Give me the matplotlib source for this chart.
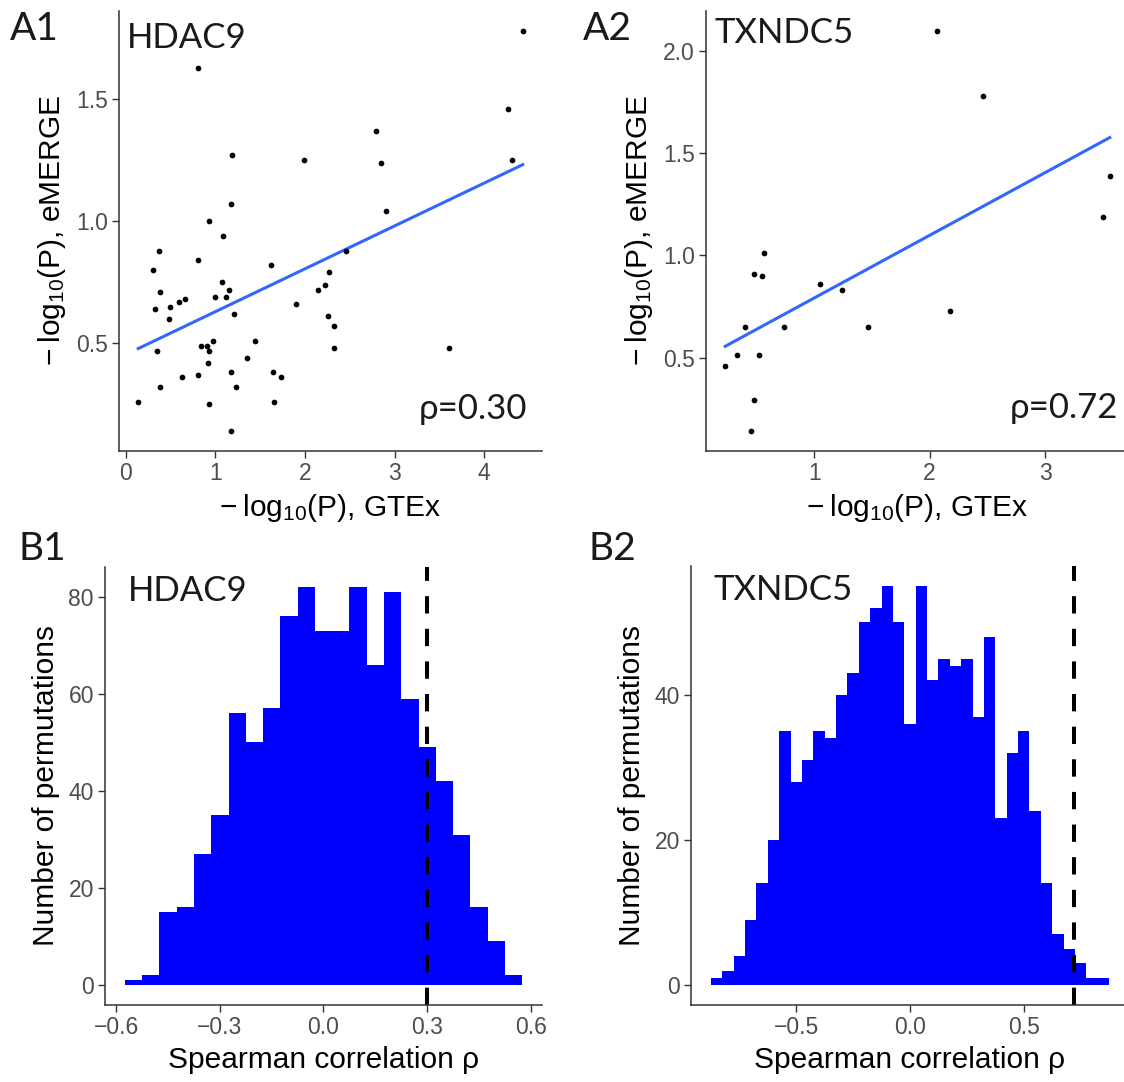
import numpy as np
import matplotlib
matplotlib.use("Agg")
import matplotlib.pyplot as plt

plt.rcParams['font.family'] = ['Liberation Sans', 'DejaVu Sans']
plt.rcParams['mathtext.default'] = 'regular'

# --- A1: HDAC9 scatter (GTEx vs eMERGE) ---
hdac9_gtex = [4.43, 0.81, 4.27, 2.79, 1.19, 1.99, 2.85, 4.31, 1.18, 2.90, 0.93,
              1.09, 0.37, 2.46, 0.31, 0.81, 1.62, 2.27, 1.08, 0.38, 1.15, 2.15,
              2.22, 0.33, 0.50, 0.60, 0.66, 1.00, 1.12, 0.48, 1.21, 1.90, 2.26,
              2.32, 2.32, 0.35, 0.84, 0.91, 0.93, 0.97, 1.44, 3.61, 0.92, 1.35,
              0.63, 0.81, 1.18, 1.64, 1.73, 0.38, 1.23, 0.14, 1.66, 0.93, 1.18]
hdac9_emerge = [1.78, 1.63, 1.46, 1.37, 1.27, 1.25, 1.24, 1.25, 1.07, 1.04, 1.00,
                0.94, 0.88, 0.88, 0.80, 0.84, 0.82, 0.79, 0.75, 0.71, 0.72, 0.72,
                0.74, 0.64, 0.65, 0.67, 0.68, 0.69, 0.69, 0.60, 0.62, 0.66, 0.61,
                0.57, 0.48, 0.47, 0.49, 0.49, 0.47, 0.51, 0.51, 0.48, 0.42, 0.44,
                0.36, 0.37, 0.38, 0.38, 0.36, 0.32, 0.32, 0.26, 0.26, 0.25, 0.14]
hdac9_rho = 0.30

# --- A2: TXNDC5 scatter ---
txndc5_gtex = [2.06, 2.46, 3.56, 3.50, 0.57, 0.48, 0.55, 1.05, 1.24, 2.18,
               0.40, 0.74, 1.47, 0.33, 0.52, 0.23, 0.48, 0.45]
txndc5_emerge = [2.10, 1.78, 1.39, 1.19, 1.01, 0.91, 0.90, 0.86, 0.83, 0.73,
                 0.65, 0.65, 0.65, 0.51, 0.51, 0.46, 0.29, 0.14]
txndc5_rho = 0.72

# --- B1 / B2: permutation histograms (bin width 0.05) ---
hdac9_bin_start = -0.575
hdac9_counts = [1, 2, 15, 16, 27, 35, 56, 50, 57, 76, 82, 73, 73, 82, 66, 81,
                59, 49, 42, 31, 16, 9, 2]
txndc5_bin_start = -0.875
txndc5_counts = [1, 2, 4, 9, 14, 20, 35, 28, 31, 35, 34, 40, 43, 50, 52, 55, 50,
                 36, 55, 42, 45, 44, 45, 37, 48, 23, 32, 35, 24, 14, 7, 5, 3, 1, 1]
bin_width = 0.05

W, H = 1124, 1082
fig = plt.figure(figsize=(W / 100, H / 100), dpi=100)


def add_ax(l, r, t, b):
    ax = fig.add_axes([l / W, 1 - b / H, (r - l) / W, (b - t) / H])
    for s in ['top', 'right']:
        ax.spines[s].set_visible(False)
    for s in ['left', 'bottom']:
        ax.spines[s].set_color('#333333')
        ax.spines[s].set_linewidth(1.1)
    ax.tick_params(length=5, width=1.0, color='#333333', labelcolor='#4D4D4D',
                   labelsize=16.5, pad=3)
    return ax


def fmt(ticks, nd):
    return [f'{t:.{nd}f}'.replace('-', '\u2212') for t in ticks]


def expand(lo, hi, f=0.05):
    d = (hi - lo) * f
    return lo - d, hi + d


label_font = ['Lato', 'Open Sans', 'DejaVu Sans']
xlab = '\u2212\u2009log$_{10}$(P), GTEx'
ylab = '\u2212\u2009log$_{10}$(P), eMERGE'
TITLE = 21.5


def scatter_panel(ax, x, y, gene, rho, xticks, yticks, gene_pos, rho_pos):
    x = np.array(x)
    y = np.array(y)
    ax.scatter(x, y, s=17, color='black', linewidths=0, zorder=3)
    k, c = np.polyfit(x, y, 1)
    xx = np.array([x.min(), x.max()])
    ax.plot(xx, k * xx + c, color='#3366FF', lw=2.2, zorder=2)
    ax.set_xlim(*expand(x.min(), x.max()))
    ax.set_ylim(*expand(y.min(), y.max()))
    ax.set_xticks(xticks)
    ax.set_xticklabels(fmt(xticks, 0))
    ax.set_yticks(yticks)
    ax.set_yticklabels(fmt(yticks, 1))
    ax.set_xlabel(xlab, fontsize=TITLE, labelpad=5)
    ax.set_ylabel(ylab, fontsize=TITLE, labelpad=6)
    ax.text(gene_pos[0], gene_pos[1], gene, transform=ax.transAxes,
            fontsize=25, family=label_font, color='#1a1a1a', va='baseline')
    ax.text(rho_pos[0], rho_pos[1], f'\u03c1={rho:.2f}', transform=ax.transAxes,
            fontsize=25, family=label_font, color='#1a1a1a', ha='right',
            va='baseline')


def hist_panel(ax, start, counts, rho, gene, xticks, yticks, gene_pos):
    counts = np.array(counts)
    edges = start + bin_width * np.arange(len(counts) + 1)
    ax.stairs(counts, edges, fill=True, color='#0000FF', linewidth=0)
    ax.set_xlim(*expand(edges[0], edges[-1]))
    ax.set_ylim(*expand(0, counts.max()))
    ax.axvline(rho, color='black', lw=2.9, linestyle=(0, (4.3, 3.8)))
    ax.set_xticks(xticks)
    ax.set_xticklabels(fmt(xticks, 1))
    ax.set_yticks(yticks)
    ax.set_yticklabels(fmt(yticks, 0))
    ax.set_xlabel('Spearman correlation \u03c1', fontsize=TITLE, labelpad=5)
    ax.set_ylabel('Number of permutations', fontsize=TITLE, labelpad=6)
    ax.text(gene_pos[0], gene_pos[1], gene, transform=ax.transAxes,
            fontsize=25, family=label_font, color='#1a1a1a', va='baseline')


axA1 = add_ax(119, 542, 11, 451)
scatter_panel(axA1, hdac9_gtex, hdac9_emerge, 'HDAC9', hdac9_rho,
              [0, 1, 2, 3, 4], [0.5, 1.0, 1.5], (0.019, 0.916), (0.965, 0.072))

axA2 = add_ax(706, 1129, 11, 451)
scatter_panel(axA2, txndc5_gtex, txndc5_emerge, 'TXNDC5', txndc5_rho,
              [1, 2, 3], [0.5, 1.0, 1.5, 2.0], (0.019, 0.927), (0.975, 0.074))

axB1 = add_ax(105, 542, 567, 1005)
hist_panel(axB1, hdac9_bin_start, hdac9_counts, hdac9_rho, 'HDAC9',
           [-0.6, -0.3, 0.0, 0.3, 0.6], [0, 20, 40, 60, 80], (0.053, 0.923))

axB2 = add_ax(691, 1129, 566, 1005)
hist_panel(axB2, txndc5_bin_start, txndc5_counts, txndc5_rho, 'TXNDC5',
           [-0.5, 0.0, 0.5], [0, 20, 40], (0.051, 0.923))

# panel letters
for lab, x, y in [('A1', 10, 40), ('A2', 583, 40), ('B1', 19, 560), ('B2', 588, 560)]:
    fig.text(x / W, 1 - y / H, lab, fontsize=28, family=label_font,
             color='#1a1a1a', va='baseline')

fig.savefig('out.png', dpi=100)
